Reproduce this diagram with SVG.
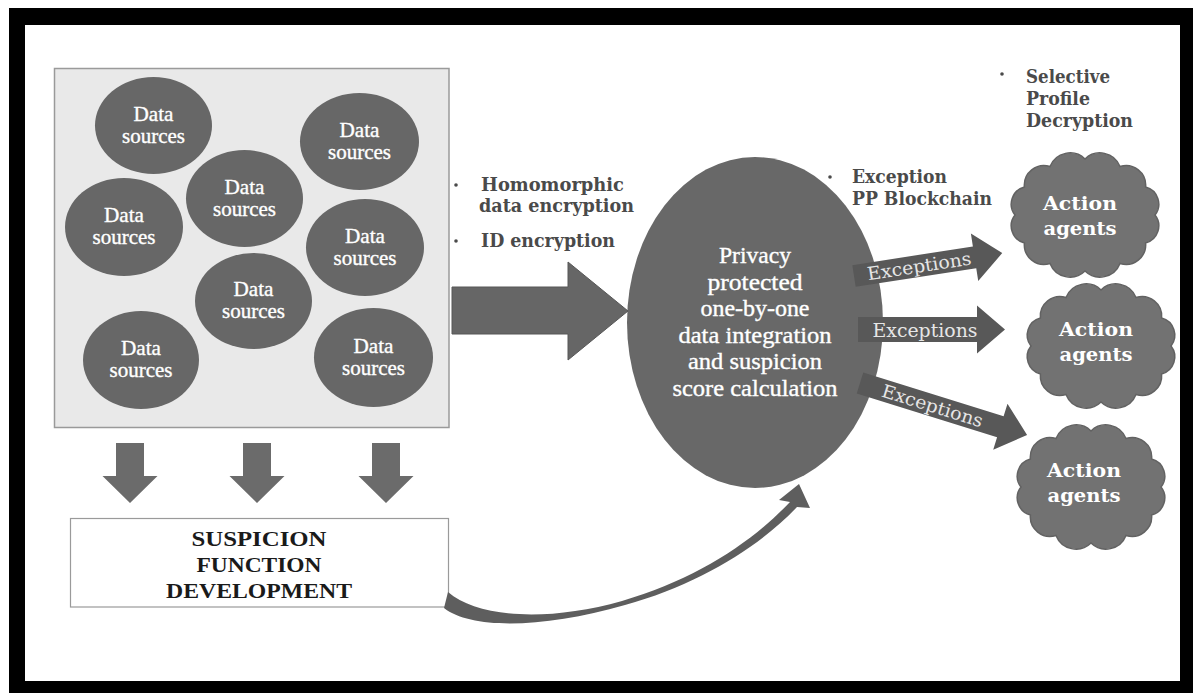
<svg xmlns="http://www.w3.org/2000/svg" width="1193" height="693" viewBox="0 0 1193 693">
  <style>
    .src { fill: #676767; }
    .src-t { font-family: "Liberation Serif", serif; font-size: 21px; fill: #ffffff; stroke: #ffffff; stroke-width: 0.35; text-anchor: middle; }
    .down { fill: #6b6b6b; }
    .note { font-family: "DejaVu Serif", "Liberation Serif", serif; font-weight: bold; font-size: 18px; fill: #4a4a4a; }
    .dot { fill: #4a4a4a; }
    .exc { fill: #585858; }
    .exc-t { font-family: "DejaVu Serif", "Liberation Serif", serif; font-size: 18px; fill: #e6e6e6; text-anchor: middle; }
    .cloud { fill: #727272; stroke: #626262; stroke-width: 1.5; }
    .cloud-t { font-family: "DejaVu Serif", "Liberation Serif", serif; font-weight: bold; font-size: 19px; fill: #ffffff; text-anchor: middle; }
    .core-t { font-family: "Liberation Serif", serif; font-size: 23px; fill: #ffffff; stroke: #ffffff; stroke-width: 0.35; text-anchor: middle; }
    .fn-t { font-family: "Liberation Serif", serif; font-weight: bold; font-size: 22px; fill: #1a1a1a; text-anchor: middle; }
  </style>
  <defs>
    <!-- scalloped cloud outline centred on the origin -->
    <path id="cloud" d="M70,0 A17.7,17.7 0 0 1 60.6,28 A19.7,19.7 0 0 1 35,48.5 A21.5,21.5 0 0 1 0,56 A21.5,21.5 0 0 1 -35,48.5 A19.7,19.7 0 0 1 -60.6,28 A17.7,17.7 0 0 1 -70,0 A17.7,17.7 0 0 1 -60.6,-28 A19.7,19.7 0 0 1 -35,-48.5 A21.5,21.5 0 0 1 0,-56 A21.5,21.5 0 0 1 35,-48.5 A19.7,19.7 0 0 1 60.6,-28 A17.7,17.7 0 0 1 70,0 Z"/>
    <!-- short block arrow pointing down, tip at origin -->
    <path id="down-arrow" d="M-14,-60 H14 V-27 H27.5 L0,0 L-27.5,-27 H-14 Z"/>
  </defs>

  <!-- page and black frame -->
  <rect width="1193" height="693" fill="#ffffff"/>
  <path d="M9,8 H1193 V693 H9 Z M25,25 V681 H1180 V25 Z" fill="#000000" fill-rule="evenodd"/>

  <!-- data source pool -->
  <g id="source-pool">
    <rect x="54.5" y="68.5" width="394.5" height="359" fill="#e9e9e9" stroke="#9a9a9a" stroke-width="1.5"/>
  </g>
  <g id="source-1"><ellipse class="src" cx="153.5" cy="125.5" rx="58.5" ry="48.5"/><text class="src-t" x="153.5" y="120.5" textLength="40" lengthAdjust="spacingAndGlyphs">Data</text><text class="src-t" x="153.5" y="142.5" textLength="63" lengthAdjust="spacingAndGlyphs">sources</text></g>
  <g id="source-2"><ellipse class="src" cx="359.5" cy="141.5" rx="59.5" ry="48.5"/><text class="src-t" x="359.5" y="136.5" textLength="40" lengthAdjust="spacingAndGlyphs">Data</text><text class="src-t" x="359.5" y="158.5" textLength="63" lengthAdjust="spacingAndGlyphs">sources</text></g>
  <g id="source-3"><ellipse class="src" cx="244.5" cy="198.5" rx="58.5" ry="48.5"/><text class="src-t" x="244.5" y="193.5" textLength="40" lengthAdjust="spacingAndGlyphs">Data</text><text class="src-t" x="244.5" y="215.5" textLength="63" lengthAdjust="spacingAndGlyphs">sources</text></g>
  <g id="source-4"><ellipse class="src" cx="124" cy="227" rx="59" ry="49"/><text class="src-t" x="124" y="222" textLength="40" lengthAdjust="spacingAndGlyphs">Data</text><text class="src-t" x="124" y="244" textLength="63" lengthAdjust="spacingAndGlyphs">sources</text></g>
  <g id="source-5"><ellipse class="src" cx="365" cy="247.5" rx="59" ry="48.5"/><text class="src-t" x="365" y="242.5" textLength="40" lengthAdjust="spacingAndGlyphs">Data</text><text class="src-t" x="365" y="264.5" textLength="63" lengthAdjust="spacingAndGlyphs">sources</text></g>
  <g id="source-6"><ellipse class="src" cx="253.5" cy="301" rx="58.5" ry="48"/><text class="src-t" x="253.5" y="296" textLength="40" lengthAdjust="spacingAndGlyphs">Data</text><text class="src-t" x="253.5" y="318" textLength="63" lengthAdjust="spacingAndGlyphs">sources</text></g>
  <g id="source-7"><ellipse class="src" cx="141" cy="360" rx="58" ry="49"/><text class="src-t" x="141" y="355" textLength="40" lengthAdjust="spacingAndGlyphs">Data</text><text class="src-t" x="141" y="377" textLength="63" lengthAdjust="spacingAndGlyphs">sources</text></g>
  <g id="source-8"><ellipse class="src" cx="373.5" cy="357.5" rx="59.5" ry="49.5"/><text class="src-t" x="373.5" y="352.5" textLength="40" lengthAdjust="spacingAndGlyphs">Data</text><text class="src-t" x="373.5" y="374.5" textLength="63" lengthAdjust="spacingAndGlyphs">sources</text></g>

  <!-- suspicion function box -->
  <g id="suspicion-function">
    <rect x="70.5" y="518.5" width="378" height="88.5" fill="#ffffff" stroke="#9a9a9a" stroke-width="1.2"/>
    <text class="fn-t" x="259" y="546" textLength="135" lengthAdjust="spacingAndGlyphs">SUSPICION</text>
    <text class="fn-t" x="259" y="572" textLength="125" lengthAdjust="spacingAndGlyphs">FUNCTION</text>
    <text class="fn-t" x="259" y="598" textLength="186" lengthAdjust="spacingAndGlyphs">DEVELOPMENT</text>
  </g>

  <!-- central integration node -->
  <g id="integration">
    <ellipse cx="755" cy="322.5" rx="128" ry="165.5" fill="#686868"/>
    <text class="core-t" x="755" y="263" textLength="72" lengthAdjust="spacingAndGlyphs">Privacy</text>
    <text class="core-t" x="755" y="289.5" textLength="95" lengthAdjust="spacingAndGlyphs">protected</text>
    <text class="core-t" x="755" y="316" textLength="109" lengthAdjust="spacingAndGlyphs">one-by-one</text>
    <text class="core-t" x="755" y="342.5" textLength="153" lengthAdjust="spacingAndGlyphs">data integration</text>
    <text class="core-t" x="755" y="369" textLength="134" lengthAdjust="spacingAndGlyphs">and suspicion</text>
    <text class="core-t" x="755" y="395.5" textLength="165" lengthAdjust="spacingAndGlyphs">score  calculation</text>
  </g>

  <!-- action agents -->
  <g id="agents-1">
    <use href="#cloud" class="cloud" transform="translate(1085,215)"/>
    <text class="cloud-t" x="1080" y="210" textLength="74" lengthAdjust="spacingAndGlyphs">Action</text>
    <text class="cloud-t" x="1080" y="235" textLength="73" lengthAdjust="spacingAndGlyphs">agents</text>
  </g>
  <g id="agents-2">
    <use href="#cloud" class="cloud" transform="translate(1101,346)"/>
    <text class="cloud-t" x="1096" y="336" textLength="74" lengthAdjust="spacingAndGlyphs">Action</text>
    <text class="cloud-t" x="1096" y="361" textLength="73" lengthAdjust="spacingAndGlyphs">agents</text>
  </g>
  <g id="agents-3">
    <use href="#cloud" class="cloud" transform="translate(1091,487)"/>
    <text class="cloud-t" x="1084" y="477" textLength="74" lengthAdjust="spacingAndGlyphs">Action</text>
    <text class="cloud-t" x="1084" y="502" textLength="73" lengthAdjust="spacingAndGlyphs">agents</text>
  </g>

  <!-- annotations -->
  <g id="notes">
    <circle class="dot" cx="456" cy="185" r="1.8"/>
    <text class="note" x="481" y="191" textLength="143" lengthAdjust="spacingAndGlyphs">Homomorphic</text>
    <text class="note" x="479" y="212" textLength="155" lengthAdjust="spacingAndGlyphs">data encryption</text>
    <circle class="dot" cx="456" cy="241" r="1.8"/>
    <text class="note" x="481" y="247" textLength="134" lengthAdjust="spacingAndGlyphs">ID encryption</text>

    <circle class="dot" cx="830" cy="177" r="1.8"/>
    <text class="note" x="852" y="183" textLength="95" lengthAdjust="spacingAndGlyphs">Exception</text>
    <text class="note" x="852" y="205" textLength="140" lengthAdjust="spacingAndGlyphs">PP Blockchain</text>

    <circle class="dot" cx="1002" cy="74" r="1.8"/>
    <text class="note" x="1026" y="83" textLength="84" lengthAdjust="spacingAndGlyphs">Selective</text>
    <text class="note" x="1026" y="105" textLength="64" lengthAdjust="spacingAndGlyphs">Profile</text>
    <text class="note" x="1026" y="127" textLength="107" lengthAdjust="spacingAndGlyphs">Decryption</text>
  </g>

  <!-- connectors -->
  <g id="connectors">
    <!-- pool to suspicion function -->
    <use href="#down-arrow" class="down" transform="translate(130,503)"/>
    <use href="#down-arrow" class="down" transform="translate(257,503)"/>
    <use href="#down-arrow" class="down" transform="translate(386,503)"/>

    <!-- encrypted feed into integration -->
    <path d="M452,287 H568 V262 L628,311 L568,360 V334 H452 Z" fill="#666666" stroke="#575757" stroke-width="1"/>

    <!-- suspicion function back into integration: tapered curved arrow -->
    <path d="M444,608 C472,630 545,628 625,605 C700,584 760,546 797,507 L810,508 L799,484 L779,500 L790,502 C752,542 697,579 622,601 C548,622 478,618 448,592 Z" fill="#5e5e5e"/>

    <!-- exceptions out to the agents -->
    <g transform="translate(854,276) rotate(-8.8)">
      <path class="exc" d="M0,-11 H122 V-24 L150,0 L122,24 V11 H0 Z"/>
      <text class="exc-t" x="66" y="6.5" textLength="105" lengthAdjust="spacingAndGlyphs">Exceptions</text>
    </g>
    <g transform="translate(858,329.5)">
      <path class="exc" d="M0,-12.5 H119 V-24 L147,0 L119,24 V12.5 H0 Z"/>
      <text class="exc-t" x="67" y="7" textLength="105" lengthAdjust="spacingAndGlyphs">Exceptions</text>
    </g>
    <g transform="translate(860,383) rotate(17.3)">
      <path class="exc" d="M0,-11 H147 V-24 L175,0 L147,24 V11 H0 Z"/>
      <text class="exc-t" x="76" y="6.5" textLength="105" lengthAdjust="spacingAndGlyphs">Exceptions</text>
    </g>
  </g>
</svg>
